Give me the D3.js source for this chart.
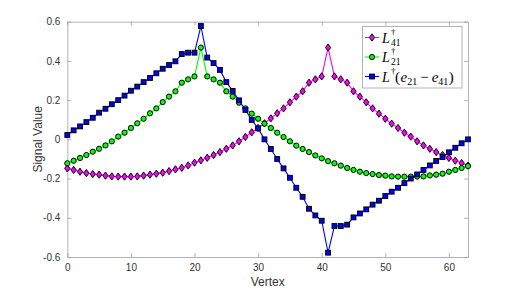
<!DOCTYPE html>
<html><head><meta charset="utf-8">
<script src="https://cdn.jsdelivr.net/npm/d3@7"></script>
<style>
html,body{margin:0;padding:0;background:#fff;}
svg{display:block;}
</style>
</head><body>
<svg id="chart" width="518" height="289"></svg>
<script>
// ---- data (vertex index 0..63) ----
const vertices = d3.range(64);
const L41 = [-0.148,-0.156,-0.165,-0.172,-0.177,-0.180,-0.185,-0.189,-0.190,-0.190,
  -0.190,-0.189,-0.185,-0.180,-0.175,-0.170,-0.162,-0.153,-0.145,-0.133,
  -0.119,-0.107,-0.094,-0.080,-0.065,-0.048,-0.031,-0.010,0.012,0.036,
  0.058,0.082,0.107,0.133,0.158,0.189,0.218,0.245,0.289,0.306,
  0.321,0.468,0.321,0.306,0.289,0.245,0.218,0.189,0.158,0.131,
  0.105,0.080,0.058,0.034,0.014,-0.010,-0.031,-0.048,-0.065,-0.080,
  -0.095,-0.109,-0.121,-0.134];
const L21 = [-0.122,-0.109,-0.095,-0.080,-0.063,-0.048,-0.031,-0.010,0.014,0.034,
  0.058,0.082,0.105,0.133,0.158,0.190,0.218,0.245,0.289,0.306,
  0.321,0.468,0.321,0.306,0.289,0.245,0.218,0.187,0.158,0.131,
  0.105,0.080,0.058,0.034,0.012,-0.010,-0.032,-0.049,-0.065,-0.082,
  -0.097,-0.111,-0.122,-0.134,-0.146,-0.156,-0.165,-0.172,-0.177,-0.182,
  -0.185,-0.189,-0.190,-0.190,-0.190,-0.190,-0.189,-0.184,-0.180,-0.175,
  -0.165,-0.156,-0.146,-0.136];
const Ldiff = [0.022,0.046,0.066,0.088,0.110,0.136,0.156,0.179,0.200,0.223,
  0.248,0.269,0.292,0.313,0.337,0.360,0.379,0.398,0.435,0.442,
  0.442,0.578,0.417,0.389,0.354,0.292,0.247,0.199,0.150,0.099,
  0.056,0.000,-0.049,-0.100,-0.148,-0.196,-0.247,-0.293,-0.354,-0.388,
  -0.415,-0.578,-0.442,-0.442,-0.435,-0.398,-0.378,-0.357,-0.333,-0.313,
  -0.289,-0.267,-0.247,-0.223,-0.200,-0.179,-0.156,-0.133,-0.110,-0.090,
  -0.066,-0.043,-0.020,0.000];
const xTicks = [0,10,20,30,40,50,60];
const yTicks = [-0.6,-0.4,-0.2,0,0.2,0.4,0.6];
const yTickLabels = ["-0.6","-0.4","-0.2","0","0.2","0.4","0.6"];

// ---- layout ----
const svg = d3.select("#chart");
const L = 67.3, R = 468, T = 21.7, B = 257;
const x = d3.scaleLinear().domain([0,63]).range([L,R]);
const y = d3.scaleLinear().domain([-0.6,0.6]).range([B,T]);
const axisColor = "#a0a0a0";
const textColor = "#333";
const sans = "'Liberation Sans', Arial, Helvetica, sans-serif";
const serif = "'Liberation Serif', 'DejaVu Serif', 'Times New Roman', serif";

// axes
function styleAxis(g, showText){
  g.select(".domain").attr("stroke", axisColor).attr("stroke-width",0.8);
  g.selectAll(".tick line").attr("stroke", axisColor).attr("stroke-width",0.8);
  g.selectAll(".tick text").attr("fill", textColor).attr("font-family", sans).attr("font-size", 10)
    .style("display", showText ? null : "none");
}
svg.append("g").attr("transform",`translate(0,${B})`)
  .call(d3.axisBottom(x).tickValues(xTicks).tickSizeInner(-4).tickSizeOuter(0).tickPadding(7).tickFormat(d3.format("d")))
  .call(g=>styleAxis(g,true));
svg.append("g").attr("transform",`translate(0,${T})`)
  .call(d3.axisTop(x).tickValues(xTicks).tickSizeInner(-4).tickSizeOuter(0))
  .call(g=>styleAxis(g,false));
svg.append("g").attr("transform",`translate(${L},0)`)
  .call(d3.axisLeft(y).tickValues(yTicks).tickSizeInner(-4).tickSizeOuter(0).tickPadding(7)
    .tickFormat((d,i)=>yTickLabels[i]))
  .call(g=>styleAxis(g,true));
svg.append("g").attr("transform",`translate(${R},0)`)
  .call(d3.axisRight(y).tickValues(yTicks).tickSizeInner(-4).tickSizeOuter(0))
  .call(g=>styleAxis(g,false));

// axis labels
svg.append("text").attr("x", (L+R)/2).attr("y", 285.5).attr("text-anchor","middle")
  .attr("font-family", sans).attr("font-size", 12).attr("fill", textColor).text("Vertex");
svg.append("text").attr("transform",`translate(41.5,${(T+B)/2}) rotate(-90)`).attr("text-anchor","middle")
  .attr("font-family", sans).attr("font-size", 12).attr("fill", textColor).text("Signal Value");

// series
const series = [
  {name:"L41", values:L41, color:"#ff00ff", marker:"diamond"},
  {name:"L21", values:L21, color:"#00ff00", marker:"circle"},
  {name:"diff", values:Ldiff, color:"#0000ff", marker:"square"}
];
const line = d3.line().x((d,i)=>x(vertices[i])).y(d=>y(d));
function drawMarker(g, type, cx, cy, color){
  if(type==="diamond"){
    g.append("path").attr("d",`M${cx},${cy-3.6}L${cx+2.6},${cy}L${cx},${cy+3.6}L${cx-2.6},${cy}Z`)
      .attr("fill",color).attr("stroke","#000").attr("stroke-width",1);
  } else if(type==="circle"){
    g.append("circle").attr("cx",cx).attr("cy",cy).attr("r",2.6)
      .attr("fill",color).attr("stroke","#000").attr("stroke-width",1);
  } else {
    g.append("rect").attr("x",cx-2.4).attr("y",cy-2.4).attr("width",4.8).attr("height",4.8)
      .attr("fill",color).attr("stroke","#000").attr("stroke-width",1);
  }
}
series.forEach(s=>{
  const g = svg.append("g");
  g.append("path").attr("d", line(s.values)).attr("fill","none").attr("stroke", s.color).attr("stroke-width",1.1);
  s.values.forEach((v,i)=>drawMarker(g, s.marker, x(vertices[i]), y(v), s.color));
});

// legend
const lg = svg.append("g");
lg.append("rect").attr("x",362.5).attr("y",26.5).attr("width",99.5).attr("height",61.5)
  .attr("fill","#fff").attr("stroke",axisColor).attr("stroke-width",0.8);
const rows = [37.5, 57, 76.5];
series.forEach((s,k)=>{
  const cy = rows[k];
  lg.append("line").attr("x1",365).attr("x2",379).attr("y1",cy).attr("y2",cy).attr("stroke",s.color).attr("stroke-width",1.1);
  drawMarker(lg, s.marker, 372, cy, s.color);
});
function Ltext(cy, sub){
  const base = cy + 5;
  lg.append("text").attr("x",382).attr("y",base).attr("font-family",serif).attr("font-style","italic")
    .attr("font-size",14).attr("fill","#000").text("L");
  lg.append("text").attr("x",391).attr("y",base-8).attr("font-family",serif)
    .attr("font-size",9).attr("fill","#000").text("\u2020");
  if(sub) lg.append("text").attr("x",391).attr("y",base+3).attr("font-family",serif)
    .attr("font-size",9.5).attr("fill","#000").text(sub);
}
Ltext(rows[0], "41");
Ltext(rows[1], "21");
Ltext(rows[2], null);
const t3 = lg.append("text").attr("x",395).attr("y",rows[2]+5).attr("font-family",serif)
  .attr("font-size",15).attr("fill","#000");
t3.append("tspan").text("(");
t3.append("tspan").attr("font-style","italic").attr("dx",0.5).text("e");
t3.append("tspan").attr("font-size",10).attr("dy",3).text("21");
t3.append("tspan").attr("dy",-3).attr("dx",3).text("\u2212");
t3.append("tspan").attr("font-style","italic").attr("dx",3).text("e");
t3.append("tspan").attr("font-size",10).attr("dy",3).text("41");
t3.append("tspan").attr("dy",-3).attr("dx",0.5).text(")");
</script>
</body></html>
